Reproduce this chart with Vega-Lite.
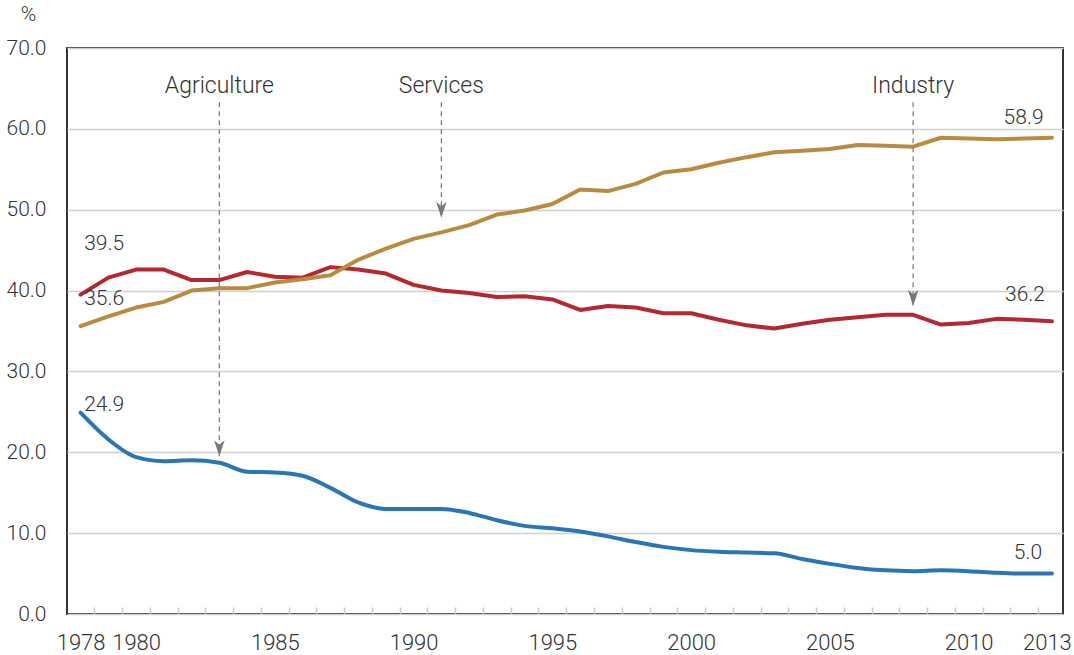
{
  "$schema": "https://vega.github.io/schema/vega-lite/v6.json",
  "autosize": {"type": "none"},
  "padding": {"left": 67, "top": 48, "right": 11, "bottom": 41},
  "width": 996,
  "height": 566,
  "background": "white",
  "config": {
    "font": "Roboto",
    "view": {"stroke": "#333333", "strokeWidth": 2},
    "text": {"font": "Roboto", "fontWeight": 300, "color": "#333333"}
  },
  "resolve": {"axis": {"x": "independent"}},
  "datasets": {
    "shares": [
      {"year": 1978, "sector": "Agriculture", "value": 24.9},
      {"year": 1979, "sector": "Agriculture", "value": 21.6},
      {"year": 1980, "sector": "Agriculture", "value": 19.4},
      {"year": 1981, "sector": "Agriculture", "value": 18.9},
      {"year": 1982, "sector": "Agriculture", "value": 19.0},
      {"year": 1983, "sector": "Agriculture", "value": 18.7},
      {"year": 1984, "sector": "Agriculture", "value": 17.6},
      {"year": 1985, "sector": "Agriculture", "value": 17.5},
      {"year": 1986, "sector": "Agriculture", "value": 17.1},
      {"year": 1987, "sector": "Agriculture", "value": 15.6},
      {"year": 1988, "sector": "Agriculture", "value": 13.8},
      {"year": 1989, "sector": "Agriculture", "value": 13.0},
      {"year": 1990, "sector": "Agriculture", "value": 13.0},
      {"year": 1991, "sector": "Agriculture", "value": 13.0},
      {"year": 1992, "sector": "Agriculture", "value": 12.5},
      {"year": 1993, "sector": "Agriculture", "value": 11.6},
      {"year": 1994, "sector": "Agriculture", "value": 10.9},
      {"year": 1995, "sector": "Agriculture", "value": 10.6},
      {"year": 1996, "sector": "Agriculture", "value": 10.2},
      {"year": 1997, "sector": "Agriculture", "value": 9.6},
      {"year": 1998, "sector": "Agriculture", "value": 8.9},
      {"year": 1999, "sector": "Agriculture", "value": 8.3},
      {"year": 2000, "sector": "Agriculture", "value": 7.9},
      {"year": 2001, "sector": "Agriculture", "value": 7.7},
      {"year": 2002, "sector": "Agriculture", "value": 7.6},
      {"year": 2003, "sector": "Agriculture", "value": 7.5},
      {"year": 2004, "sector": "Agriculture", "value": 6.8},
      {"year": 2005, "sector": "Agriculture", "value": 6.2},
      {"year": 2006, "sector": "Agriculture", "value": 5.7},
      {"year": 2007, "sector": "Agriculture", "value": 5.4},
      {"year": 2008, "sector": "Agriculture", "value": 5.3},
      {"year": 2009, "sector": "Agriculture", "value": 5.4},
      {"year": 2010, "sector": "Agriculture", "value": 5.3},
      {"year": 2011, "sector": "Agriculture", "value": 5.1},
      {"year": 2012, "sector": "Agriculture", "value": 5.0},
      {"year": 2013, "sector": "Agriculture", "value": 5.0},
      {"year": 1978, "sector": "Industry", "value": 39.5},
      {"year": 1979, "sector": "Industry", "value": 41.6},
      {"year": 1980, "sector": "Industry", "value": 42.6},
      {"year": 1981, "sector": "Industry", "value": 42.6},
      {"year": 1982, "sector": "Industry", "value": 41.3},
      {"year": 1983, "sector": "Industry", "value": 41.3},
      {"year": 1984, "sector": "Industry", "value": 42.3},
      {"year": 1985, "sector": "Industry", "value": 41.7},
      {"year": 1986, "sector": "Industry", "value": 41.6},
      {"year": 1987, "sector": "Industry", "value": 42.9},
      {"year": 1988, "sector": "Industry", "value": 42.6},
      {"year": 1989, "sector": "Industry", "value": 42.1},
      {"year": 1990, "sector": "Industry", "value": 40.7},
      {"year": 1991, "sector": "Industry", "value": 40.0},
      {"year": 1992, "sector": "Industry", "value": 39.7},
      {"year": 1993, "sector": "Industry", "value": 39.2},
      {"year": 1994, "sector": "Industry", "value": 39.3},
      {"year": 1995, "sector": "Industry", "value": 38.9},
      {"year": 1996, "sector": "Industry", "value": 37.6},
      {"year": 1997, "sector": "Industry", "value": 38.1},
      {"year": 1998, "sector": "Industry", "value": 37.9},
      {"year": 1999, "sector": "Industry", "value": 37.2},
      {"year": 2000, "sector": "Industry", "value": 37.2},
      {"year": 2001, "sector": "Industry", "value": 36.4},
      {"year": 2002, "sector": "Industry", "value": 35.7},
      {"year": 2003, "sector": "Industry", "value": 35.3},
      {"year": 2004, "sector": "Industry", "value": 35.9},
      {"year": 2005, "sector": "Industry", "value": 36.4},
      {"year": 2006, "sector": "Industry", "value": 36.7},
      {"year": 2007, "sector": "Industry", "value": 37.0},
      {"year": 2008, "sector": "Industry", "value": 37.0},
      {"year": 2009, "sector": "Industry", "value": 35.8},
      {"year": 2010, "sector": "Industry", "value": 36.0},
      {"year": 2011, "sector": "Industry", "value": 36.5},
      {"year": 2012, "sector": "Industry", "value": 36.4},
      {"year": 2013, "sector": "Industry", "value": 36.2},
      {"year": 1978, "sector": "Services", "value": 35.6},
      {"year": 1979, "sector": "Services", "value": 36.8},
      {"year": 1980, "sector": "Services", "value": 37.9},
      {"year": 1981, "sector": "Services", "value": 38.6},
      {"year": 1982, "sector": "Services", "value": 40.0},
      {"year": 1983, "sector": "Services", "value": 40.3},
      {"year": 1984, "sector": "Services", "value": 40.3},
      {"year": 1985, "sector": "Services", "value": 41.0},
      {"year": 1986, "sector": "Services", "value": 41.4},
      {"year": 1987, "sector": "Services", "value": 41.9},
      {"year": 1988, "sector": "Services", "value": 43.8},
      {"year": 1989, "sector": "Services", "value": 45.2},
      {"year": 1990, "sector": "Services", "value": 46.4},
      {"year": 1991, "sector": "Services", "value": 47.2},
      {"year": 1992, "sector": "Services", "value": 48.1},
      {"year": 1993, "sector": "Services", "value": 49.4},
      {"year": 1994, "sector": "Services", "value": 49.9},
      {"year": 1995, "sector": "Services", "value": 50.7},
      {"year": 1996, "sector": "Services", "value": 52.5},
      {"year": 1997, "sector": "Services", "value": 52.3},
      {"year": 1998, "sector": "Services", "value": 53.2},
      {"year": 1999, "sector": "Services", "value": 54.6},
      {"year": 2000, "sector": "Services", "value": 55.0},
      {"year": 2001, "sector": "Services", "value": 55.8},
      {"year": 2002, "sector": "Services", "value": 56.5},
      {"year": 2003, "sector": "Services", "value": 57.1},
      {"year": 2004, "sector": "Services", "value": 57.3},
      {"year": 2005, "sector": "Services", "value": 57.5},
      {"year": 2006, "sector": "Services", "value": 58.0},
      {"year": 2007, "sector": "Services", "value": 57.9},
      {"year": 2008, "sector": "Services", "value": 57.8},
      {"year": 2009, "sector": "Services", "value": 58.9},
      {"year": 2010, "sector": "Services", "value": 58.8},
      {"year": 2011, "sector": "Services", "value": 58.7},
      {"year": 2012, "sector": "Services", "value": 58.8},
      {"year": 2013, "sector": "Services", "value": 58.9}
    ],
    "arrows": [
      {"label": "Agriculture", "year": 1983, "top": 63.3, "tip": 19.5, "texty": 65.3},
      {"label": "Services", "year": 1991, "top": 63.3, "tip": 49.0, "texty": 65.3},
      {"label": "Industry", "year": 2008, "top": 63.3, "tip": 38.1, "texty": 65.3}
    ],
    "startLabels": [
      {"text": "39.5", "year": 1978.13, "pos": 45.8},
      {"text": "35.6", "year": 1978.13, "pos": 38.9},
      {"text": "24.9", "year": 1978.13, "pos": 25.9}
    ],
    "endLabels": [
      {"text": "58.9", "year": 2012.7, "pos": 61.3},
      {"text": "36.2", "year": 2012.75, "pos": 39.4},
      {"text": "5.0", "year": 2012.65, "pos": 7.5}
    ]
  },
  "layer": [
    {
      "data": {"name": "shares"},
      "transform": [{"filter": "datum.sector != 'Agriculture'"}],
      "mark": {"type": "line", "strokeWidth": 4, "interpolate": "linear", "strokeCap": "round", "strokeJoin": "round"},
      "encoding": {
        "x": {
          "field": "year", "type": "quantitative",
          "scale": {"domain": [1977.51, 2013.4], "nice": false, "zero": false},
          "axis": {
            "title": null,
            "orient": "bottom",
            "values": [1978, 1980, 1985, 1990, 1995, 2000, 2005, 2010, 2013],
            "format": "d",
            "labelOverlap": false,
            "labelFlush": false,
            "labelFont": "Roboto",
            "labelFontWeight": 300,
            "labelFontSize": 22,
            "labelColor": "#333333",
            "labelPadding": 18,
            "labelOffset": {"condition": {"test": "datum.value == 2013", "value": -5}, "value": 0},
            "ticks": false,
            "domain": false,
            "grid": false
          }
        },
        "y": {
          "field": "value", "type": "quantitative",
          "scale": {"domain": [0, 70], "nice": false},
          "axis": {
            "title": "%",
            "titleAngle": 0,
            "titleX": -39,
            "titleY": -34,
            "titleAlign": "center",
            "titleBaseline": "middle",
            "titleFont": "Roboto",
            "titleFontWeight": 300,
            "titleFontSize": 21,
            "titleColor": "#333333",
            "values": [0, 10, 20, 30, 40, 50, 60, 70],
            "format": ".1f",
            "labelFont": "Roboto",
            "labelFontWeight": 300,
            "labelFontSize": 21,
            "labelColor": "#333333",
            "labelPadding": 21,
            "ticks": false,
            "domain": false,
            "grid": true,
            "gridColor": "#d0d0d0",
            "gridWidth": 1.5
          }
        },
        "color": {
          "field": "sector", "type": "nominal",
          "scale": {"domain": ["Agriculture", "Industry", "Services"], "range": ["#2a76b4", "#b3292f", "#b98b40"]},
          "legend": null
        }
      }
    },
    {
      "data": {"name": "shares"},
      "transform": [{"filter": "datum.sector == 'Agriculture'"}],
      "mark": {"type": "line", "strokeWidth": 4, "interpolate": "monotone", "strokeCap": "round", "color": "#2a76b4"},
      "encoding": {
        "x": {
          "field": "year", "type": "quantitative",
          "axis": {
            "title": null,
            "orient": "bottom",
            "values": [1978.5, 1979.5, 1980.5, 1981.5, 1982.5, 1983.5, 1984.5, 1985.5, 1986.5, 1987.5, 1988.5, 1989.5, 1990.5, 1991.5, 1992.5, 1993.5, 1994.5, 1995.5, 1996.5, 1997.5, 1998.5, 1999.5, 2000.5, 2001.5, 2002.5, 2003.5, 2004.5, 2005.5, 2006.5, 2007.5, 2008.5, 2009.5, 2010.5, 2011.5, 2012.5],
            "labels": false,
            "tickSize": -7,
            "tickColor": "#c8c8c8",
            "tickWidth": 1.5,
            "domain": false,
            "grid": false
          }
        },
        "y": {"field": "value", "type": "quantitative"}
      }
    },
    {
      "data": {"name": "arrows"},
      "mark": {"type": "rule", "color": "#777777", "strokeWidth": 1.2, "strokeDash": [5, 4]},
      "encoding": {
        "x": {"field": "year", "type": "quantitative", "axis": null},
        "y": {"field": "top", "type": "quantitative"},
        "y2": {"field": "tip"}
      }
    },
    {
      "data": {"name": "arrows"},
      "mark": {"type": "point", "shape": "M -0.36 -1.1 L 0 0 L 0.36 -1.1 L 0 -0.8 Z", "size": 850, "filled": true, "color": "#77787b", "opacity": 1},
      "encoding": {
        "x": {"field": "year", "type": "quantitative", "axis": null},
        "y": {"field": "tip", "type": "quantitative"}
      }
    },
    {
      "data": {"name": "arrows"},
      "mark": {"type": "text", "fontSize": 23, "align": "center", "baseline": "middle"},
      "encoding": {
        "x": {"field": "year", "type": "quantitative", "axis": null},
        "y": {"field": "texty", "type": "quantitative"},
        "text": {"field": "label"}
      }
    },
    {
      "data": {"name": "startLabels"},
      "mark": {"type": "text", "fontSize": 21, "align": "left", "baseline": "middle"},
      "encoding": {
        "x": {"field": "year", "type": "quantitative", "axis": null},
        "y": {"field": "pos", "type": "quantitative"},
        "text": {"field": "text"}
      }
    },
    {
      "data": {"name": "endLabels"},
      "mark": {"type": "text", "fontSize": 21, "align": "right", "baseline": "middle"},
      "encoding": {
        "x": {"field": "year", "type": "quantitative", "axis": null},
        "y": {"field": "pos", "type": "quantitative"},
        "text": {"field": "text"}
      }
    }
  ]
}
